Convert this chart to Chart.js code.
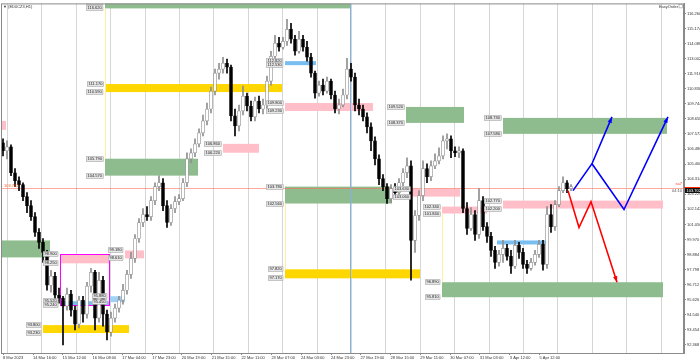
<!DOCTYPE html>
<html>
<head>
<meta charset="utf-8">
<script src="https://cdn.jsdelivr.net/npm/chart.js@4.4.0/dist/chart.umd.min.js"></script>
<style>
  html, body { margin: 0; padding: 0; background: #fff; }
  #wrap { width: 700px; height: 362px; }
</style>
</head>
<body>
<div id="wrap"><canvas id="chart" width="700" height="362"></canvas></div>
<script>
// bars: [open, high, low, close]
const ohlc = [
  [106.93,107.22,105.99,106.36],[106.36,107.08,105.78,106.64],[106.64,106.79,104.56,104.78],[104.78,105.07,103.78,104.21],
  [104.21,104.49,103.49,103.92],[103.92,104.06,102.77,103.06],[103.06,103.34,101.91,102.41],[102.41,102.77,101.34,101.62],
  [101.62,101.91,100.19,100.48],[100.48,100.76,99.33,99.76],[99.76,100.04,98.32,99.04],[99.04,99.18,96.31,96.67],
  [96.67,97.75,96.17,97.32],[97.32,97.60,95.60,95.95],[95.95,96.46,95.38,95.74],[95.74,95.88,92.37,95.17],
  [95.17,96.46,94.88,96.03],[96.03,96.31,94.45,94.88],[94.88,95.17,93.45,93.87],[93.87,95.88,93.59,95.60],
  [95.60,95.88,94.02,94.59],[94.59,96.89,94.30,96.60],[96.60,97.89,96.17,97.60],[97.60,97.75,93.45,94.30],
  [94.30,97.60,94.02,97.03],[97.03,97.32,93.73,94.59],[94.59,94.88,92.73,93.30],[93.30,94.74,93.01,94.30],
  [94.30,95.31,94.02,95.02],[95.02,95.88,94.74,95.60],[95.60,96.74,95.31,96.31],[96.31,97.75,96.03,97.46],
  [97.46,99.04,97.17,98.61],[98.61,100.33,98.32,100.04],[100.04,101.48,99.76,101.19],[101.19,102.20,100.90,101.77],
  [101.77,102.34,101.34,101.62],[101.62,103.06,101.34,102.77],[102.77,104.06,102.48,103.78],[103.78,104.56,103.49,104.06],
  [104.06,104.35,102.05,102.41],[102.41,102.77,100.83,101.19],[101.19,102.48,100.98,102.20],[102.20,103.06,101.91,102.70],
  [102.70,103.20,102.48,102.91],[102.91,104.35,102.77,104.06],[104.06,106.21,103.78,105.78],[105.78,106.50,105.50,106.21],
  [106.21,107.22,105.93,106.86],[106.86,107.94,106.64,107.65],[107.65,108.94,107.44,108.51],[108.51,109.80,108.22,109.37],
  [109.37,110.95,109.09,110.66],[110.66,112.24,110.38,111.96],[111.96,112.67,111.52,112.24],[112.24,113.10,111.96,112.67],
  [112.67,112.96,111.96,112.39],[112.39,112.53,108.51,108.87],[108.87,109.37,107.44,108.15],[108.15,109.66,107.79,109.23],
  [109.23,111.02,108.94,110.30],[110.30,110.52,109.23,109.59],[109.59,109.95,108.51,108.80],[108.80,110.23,108.51,109.95],
  [109.95,110.30,109.09,109.37],[109.37,110.09,109.01,109.66],[109.66,111.74,109.37,111.38],[111.38,113.53,111.09,113.17],
  [113.17,114.68,112.82,114.11],[114.11,114.54,113.53,113.82],[113.82,114.54,113.68,114.25],[114.25,115.83,113.96,115.11],
  [115.11,115.54,114.11,114.40],[114.40,114.68,113.25,113.53],[113.53,114.97,113.39,114.40],[114.40,114.68,113.53,113.82],
  [113.82,114.25,112.82,113.10],[113.10,113.39,111.67,111.96],[111.96,112.10,110.16,110.52],[110.52,111.38,110.30,111.09],
  [111.09,111.52,110.38,110.66],[110.66,111.67,110.52,111.38],[111.38,111.52,110.09,110.38],[110.38,110.66,109.09,109.37],
  [109.37,110.09,109.01,109.66],[109.66,110.81,109.52,110.38],[110.38,113.03,110.09,112.24],[112.24,112.67,111.38,111.67],
  [111.67,111.96,109.23,109.66],[109.66,110.09,108.94,109.37],[109.37,109.66,108.51,108.80],[108.80,109.09,107.65,108.08],
  [108.08,108.37,106.36,107.08],[107.08,107.36,105.35,105.78],[105.78,106.07,103.92,104.35],[104.35,104.64,103.49,103.78],
  [103.78,103.99,102.56,102.91],[102.91,103.92,102.63,103.63],[103.63,103.99,103.06,103.34],[103.34,104.35,103.13,104.06],
  [104.06,105.07,103.85,104.78],[104.78,105.86,104.42,105.28],[105.28,105.64,97.03,99.90],[99.90,102.05,99.04,101.70],
  [101.70,103.49,101.34,103.13],[103.13,105.64,102.77,105.07],[105.07,105.42,104.06,104.49],[104.49,105.64,104.21,105.28],
  [105.28,106.14,105.07,105.64],[105.64,106.57,105.42,105.99],[105.99,107.44,105.78,107.08],[107.08,107.58,106.50,107.22],
  [107.22,107.44,105.86,106.36],[106.36,106.64,105.93,106.21],[106.21,106.64,105.86,106.36],[106.36,106.50,101.91,102.20],
  [102.20,102.63,100.33,100.76],[100.76,102.27,100.62,101.77],[101.77,102.05,99.90,100.33],[100.33,103.63,100.04,102.77],
  [102.77,103.06,100.62,100.90],[100.90,101.19,99.76,100.19],[100.19,100.48,98.75,99.18],[99.18,99.47,97.89,98.32],
  [98.32,99.18,98.04,98.90],[98.90,99.90,98.32,99.33],[99.33,99.62,98.47,98.75],[98.75,99.18,97.53,98.04],
  [98.04,99.90,97.89,99.54],[99.54,99.76,98.61,99.04],[99.04,99.33,97.89,98.18],[98.18,98.47,97.53,97.89],
  [97.89,98.61,97.75,98.32],[98.32,99.18,98.11,98.90],[98.90,99.90,98.68,99.62],[99.62,99.90,97.75,98.18],
  [98.18,102.34,97.89,101.77],[101.77,102.48,100.48,100.90],[100.90,102.77,100.62,102.48],[102.48,103.78,102.34,103.49],
  [103.49,104.49,103.34,104.06],[104.06,104.21,103.34,103.63],[103.63,103.92,103.49,103.78]
];

const lastPrice = 103.702;

// right price scale
const yTicks = [116.260,115.174,114.088,113.002,111.916,110.830,109.744,108.658,107.572,106.486,105.400,104.314,
  103.228,102.142,101.056,99.970,98.884,97.798,96.712,95.626,94.540,93.454,92.368];

// time scale (bar index positions)
const xLabelPos = [0,7.5,14.9,22.4,29.8,37.3,44.7,52.2,59.6,67.1,74.5,82,89.4,96.9,104.3,111.8,119.2,126.7,134.1];
const xLabels = ['8 Mar 2023','14 Mar 16:00','15 Mar 12:00','16 Mar 08:00','17 Mar 04:00','17 Mar 23:00',
  '20 Mar 19:00','21 Mar 15:00','22 Mar 11:00','23 Mar 07:00','24 Mar 03:00','24 Mar 23:00','27 Mar 19:00',
  '28 Mar 15:00','29 Mar 11:00','30 Mar 07:00','31 Mar 03:00','3 Apr 12:00','5 Apr 12:00'];
const gridPos = [1,9.6,18.2,26.8,35.4,44,52.6,61.2,69.8,78.4,87,95.6,104.2,112.8,121.4,130,138.6,147.2,155.8,164.4];

// zones: [fromBar, toBar, high, low, kind, tagged]
const zones = [
  [25.5,86.75,117.100,116.620,'demand',true],
  [25.5,69.75,111.170,110.590,'gold',true],
  [25.5,48.75,105.790,104.570,'demand',true],
  [55,64,106.860,106.220,'supply',true],
  [-0.75,0.75,108.510,107.870,'supply',false],
  [70.5,78.25,112.820,112.530,'mid',true],
  [70.5,92.5,109.800,109.230,'supply',true],
  [100.75,115.25,109.520,108.370,'demand',true],
  [125,166,108.730,107.580,'demand',true],
  [70.5,97.25,103.780,102.560,'demand',true],
  [102.25,114.25,103.630,103.060,'supply',true],
  [109.75,121,102.340,101.840,'supply',true],
  [125,165,102.770,102.200,'supply',true],
  [30.5,35.25,99.180,98.610,'supply',true],
  [-0.75,11.75,99.900,98.680,'demand',false],
  [14.25,26.5,98.900,98.250,'supply',true],
  [14.25,26.5,95.520,95.240,'mid',true],
  [26.5,30.5,95.880,95.450,'midLight',true],
  [10,31.5,93.800,93.230,'gold',true],
  [70.5,104.25,97.820,97.170,'gold',true],
  [109.75,165,96.890,95.810,'demand',true],
  [123.5,135.75,99.900,99.610,'mid',false]
];
const frameBox = [14.25, 26.5, 98.90, 95.24];
// vertical markers: [bar, fromPrice, toPrice, kind]
const vLines = [
  [86.75, 117.2, 91.7, 'blue'],
  [25.5, 116.62, 105.79, 'gold'],
  [70.5, 102.56, 97.82, 'gold'],
  [109.75, 101.84, 96.89, 'gold']
];

// projected paths [bar, price]
const bluePathA = [[142.5,103.49],[147.25,105.43],[152.25,108.80]];
const bluePathB = [[147.25,105.43],[155.25,102.13],[166.25,108.80]];
const redPath = [[141.25,103.49],[144,100.83],[147,102.70],[153.5,96.89]];

const zoneColors = {
  demand: 'rgba(143,188,143,1)',
  supply: 'rgba(255,190,200,1)',
  gold: 'rgba(255,215,0,1)',
  mid: 'rgba(120,190,240,1)',
  midLight: 'rgba(160,210,245,1)'
};
const lineColors = { blue: '#7fb2e5', gold: '#fff0a0' };
const FONT = 'Liberation Sans';

const up = ohlc.map(d => d[3] >= d[0]);

function toPts(path) {
  return path.map(p => ({ x: p[0], y: p[1] }));
}

const overlay = {
  id: 'overlay',
  beforeDatasetsDraw(chart) {
    const { ctx, chartArea: a, scales: { x, y } } = chart;
    ctx.save();
    ctx.beginPath();
    ctx.rect(a.left, a.top, a.right - a.left, a.bottom - a.top);
    ctx.clip();

    // vertical grid
    ctx.strokeStyle = '#d6d6d6';
    ctx.lineWidth = 1;
    gridPos.forEach(g => {
      const px = Math.round(x.getPixelForValue(g)) + 0.5;
      ctx.beginPath();
      ctx.moveTo(px, a.top);
      ctx.lineTo(px, a.bottom);
      ctx.stroke();
    });

    // zones
    zones.forEach(z => {
      const x0 = x.getPixelForValue(z[0]), x1 = x.getPixelForValue(z[1]);
      const y0 = y.getPixelForValue(z[2]), y1 = y.getPixelForValue(z[3]);
      ctx.fillStyle = zoneColors[z[4]];
      ctx.fillRect(x0, y0, x1 - x0, y1 - y0);
    });

    // vertical marker lines
    vLines.forEach(v => {
      const px = Math.round(x.getPixelForValue(v[0])) + 0.5;
      ctx.strokeStyle = lineColors[v[3]];
      ctx.beginPath();
      ctx.moveTo(px, y.getPixelForValue(v[1]));
      ctx.lineTo(px, y.getPixelForValue(v[2]));
      ctx.stroke();
    });

    // magenta frame
    ctx.strokeStyle = '#ff00ff';
    ctx.lineWidth = 1;
    const fx0 = x.getPixelForValue(frameBox[0]), fx1 = x.getPixelForValue(frameBox[1]);
    const fy0 = y.getPixelForValue(frameBox[2]), fy1 = y.getPixelForValue(frameBox[3]);
    ctx.strokeRect(Math.round(fx0) + 0.5, Math.round(fy0) + 0.5, Math.round(fx1 - fx0), Math.round(fy1 - fy0));

    // last price line
    const ly = Math.round(y.getPixelForValue(lastPrice)) + 0.5;
    ctx.strokeStyle = 'rgba(255,110,90,0.6)';
    ctx.beginPath();
    ctx.moveTo(a.left, ly);
    ctx.lineTo(a.right, ly);
    ctx.stroke();
    ctx.restore();
  },
  afterDatasetsDraw(chart) {
    const { ctx, chartArea: a, scales: { x, y } } = chart;
    ctx.save();
    ctx.beginPath();
    ctx.rect(a.left, a.top, a.right - a.left, a.bottom - a.top);
    ctx.clip();

    // arrow heads
    [[bluePathA, '#0000ff'], [bluePathB, '#0000ff'], [redPath, '#ff0000']].forEach(([p, col]) => {
      const p1 = p[p.length - 2], p2 = p[p.length - 1];
      const ax = x.getPixelForValue(p1[0]), ay = y.getPixelForValue(p1[1]);
      const bx = x.getPixelForValue(p2[0]), by = y.getPixelForValue(p2[1]);
      const ang = Math.atan2(by - ay, bx - ax);
      ctx.fillStyle = col;
      ctx.beginPath();
      ctx.moveTo(bx, by);
      ctx.lineTo(bx - 6 * Math.cos(ang) + 2.2 * Math.sin(ang), by - 6 * Math.sin(ang) - 2.2 * Math.cos(ang));
      ctx.lineTo(bx - 6 * Math.cos(ang) - 2.2 * Math.sin(ang), by - 6 * Math.sin(ang) + 2.2 * Math.cos(ang));
      ctx.closePath();
      ctx.fill();
    });

    // zone price tags
    ctx.font = '4px "' + FONT + '"';
    ctx.textBaseline = 'middle';
    ctx.textAlign = 'left';
    zones.filter(z => z[5]).forEach(z => {
      const x0 = x.getPixelForValue(z[0]);
      [z[2], z[3]].forEach(v => {
        const t = v.toFixed(3);
        const ty = Math.round(y.getPixelForValue(v));
        const w = ctx.measureText(t).width + 3;
        const bx = Math.round(x0 - w - 1.5);
        ctx.fillStyle = '#e6e6e6';
        ctx.fillRect(bx, ty - 2.5, w, 5);
        ctx.strokeStyle = '#9a9a9a';
        ctx.lineWidth = 0.5;
        ctx.strokeRect(bx + 0.25, ty - 2.25, w - 0.5, 4.5);
        ctx.fillStyle = '#222';
        ctx.fillText(t, bx + 1.5, ty + 0.3);
      });
    });

    // last price tag on the left
    const ly = y.getPixelForValue(lastPrice);
    ctx.fillStyle = '#ff5a1f';
    ctx.fillText(lastPrice.toFixed(3), a.left + 3, ly - 2);
    ctx.fillStyle = '#555';
    ctx.textAlign = 'right';
    ctx.fillText('04:10', a.right - 2, ly + 3);
    ctx.fillStyle = '#ff3a1f';
    ctx.fillText('sa7', a.right - 2, ly - 4);
    ctx.restore();

    // header texts
    ctx.save();
    ctx.font = '4px "' + FONT + '"';
    ctx.textBaseline = 'middle';
    ctx.fillStyle = '#333';
    ctx.fillText('\u25BC (ED0CZ3,H1)', a.left + 2, a.top + 3);
    ctx.textAlign = 'right';
    ctx.fillText('EasyOrder', a.right - 6, a.top + 3);
    ctx.strokeStyle = '#888';
    ctx.lineWidth = 0.5;
    ctx.strokeRect(a.right - 5, a.top + 1, 3.5, 3.5);

    // outer frame
    ctx.strokeStyle = '#8a8a8a';
    ctx.lineWidth = 1;
    ctx.strokeRect(a.left + 0.5, a.top + 0.5, a.right - a.left - 1, a.bottom - a.top);

    // last price box on the axis
    ctx.fillStyle = '#ff2a00';
    ctx.fillRect(a.right, Math.round(ly) - 1, 16, 1);
    ctx.fillStyle = '#111';
    ctx.fillRect(a.right + 1, Math.round(ly), 15, 5);
    ctx.fillStyle = '#fff';
    ctx.textAlign = 'left';
    ctx.fillText(lastPrice.toFixed(3), a.right + 2.5, Math.round(ly) + 2.6);
    ctx.restore();
  }
};

const ctx = document.getElementById('chart').getContext('2d');
const chart = new Chart(ctx, {
  data: {
    datasets: [
      {
        type: 'bar',
        data: ohlc.map((d, i) => ({ x: i, y: [d[2], d[1]] })),
        backgroundColor: up.map(u => u ? '#8f8f8f' : '#000'),
        barThickness: 1,
        grouped: false,
        order: 3
      },
      {
        type: 'bar',
        data: ohlc.map((d, i) => ({ x: i, y: [d[0], d[3]] })),
        backgroundColor: up.map(u => u ? '#ffffff' : '#000'),
        borderColor: up.map(u => u ? '#8f8f8f' : '#000'),
        borderWidth: 0.7,
        borderSkipped: false,
        barThickness: 3,
        grouped: false,
        order: 2
      },
      {
        type: 'line', data: toPts(bluePathA), borderColor: '#0000ff', borderWidth: 1.6,
        pointRadius: 0, tension: 0, order: 1
      },
      {
        type: 'line', data: toPts(bluePathB), borderColor: '#0000ff', borderWidth: 1.6,
        pointRadius: 0, tension: 0, order: 1
      },
      {
        type: 'line', data: toPts(redPath), borderColor: '#ff0000', borderWidth: 1.6,
        pointRadius: 0, tension: 0, order: 1
      }
    ]
  },
  options: {
    responsive: false,
    animation: false,
    devicePixelRatio: 1,
    layout: { padding: { left: 1, top: 2, right: 0, bottom: 0 } },
    plugins: { legend: { display: false }, tooltip: { enabled: false } },
    scales: {
      x: {
        type: 'linear',
        offset: false,
        min: -0.5,
        max: 170.25,
        afterBuildTicks: axis => { axis.ticks = xLabelPos.map(v => ({ value: v })); },
        afterFit: s => { s.height = 9; },
        grid: { offset: false, drawOnChartArea: false, drawTicks: true, tickLength: 2, color: '#8a8a8a' },
        border: { display: true, color: '#8a8a8a' },
        ticks: {
          autoSkip: false,
          maxRotation: 0,
          align: 'start',
          padding: 0,
          color: '#333',
          font: { family: FONT, size: 4 },
          callback: (v, i) => xLabels[i]
        }
      },
      y: {
        type: 'linear',
        position: 'right',
        min: 91.79,
        max: 116.98,
        afterBuildTicks: axis => { axis.ticks = yTicks.map(v => ({ value: v })); },
        afterFit: s => { s.width = 16; },
        grid: { drawOnChartArea: false, drawTicks: true, tickLength: 2, color: '#8a8a8a' },
        border: { display: true, color: '#8a8a8a' },
        ticks: {
          padding: 1,
          color: '#333',
          font: { family: FONT, size: 4 },
          callback: v => v.toFixed(3)
        }
      }
    }
  },
  plugins: [overlay]
});
</script>
</body>
</html>
